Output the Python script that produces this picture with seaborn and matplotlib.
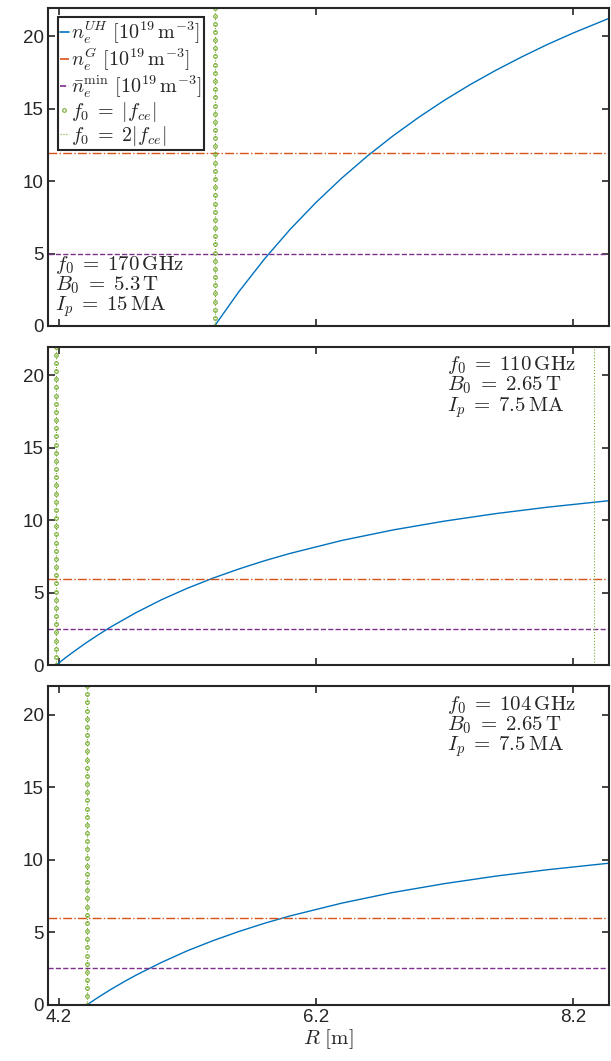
import numpy as np
import pandas as pd
import seaborn as sns
import matplotlib.pyplot as plt
from matplotlib.lines import Line2D

# upper hybrid density profiles, R [m] vs n_e [1e19 m^-3]
R_a = [5.412, 5.6, 5.8, 6.0, 6.2, 6.4, 6.6, 6.8, 7.0, 7.2, 7.4, 7.6, 7.8, 8.0, 8.2, 8.478]
n_a = [0.0, 2.36, 4.63, 6.68, 8.53, 10.21, 11.74, 13.14, 14.42, 15.60, 16.68, 17.67, 18.59, 19.45, 20.24, 21.25]

R_b = [4.182, 4.25, 4.3, 4.4, 4.5, 4.6, 4.8, 5.0, 5.2, 5.4, 5.6, 5.8, 6.0, 6.4, 6.8, 7.2, 7.6, 8.0, 8.478]
n_b = [0.0, 0.48, 0.81, 1.45, 2.04, 2.60, 3.61, 4.51, 5.30, 6.00, 6.63, 7.20, 7.71, 8.60, 9.33, 9.94, 10.46, 10.90, 11.35]

R_c = [4.424, 4.5, 4.6, 4.7, 4.8, 5.0, 5.2, 5.4, 5.6, 5.8, 6.0, 6.4, 6.8, 7.2, 7.6, 8.0, 8.478]
n_c = [0.0, 0.45, 1.01, 1.53, 2.02, 2.91, 3.71, 4.41, 5.04, 5.61, 6.12, 7.00, 7.74, 8.35, 8.87, 9.31, 9.76]

n_greenwald = [11.94, 5.97, 5.97]
n_min = [5.0, 2.5, 2.5]
R_fce = [5.412, 4.182, 4.424]          # f0 = |fce|
R_2fce = [None, 8.365, None]           # f0 = 2|fce| (only inside panel 2)
labels = [r'$f_0 \;=\; 170\,\mathrm{GHz}$' + '\n' + r'$B_0 \;=\; 5.3\,\mathrm{T}$' + '\n' + r'$I_p \;=\; 15\,\mathrm{MA}$',
          r'$f_0 \;=\; 110\,\mathrm{GHz}$' + '\n' + r'$B_0 \;=\; 2.65\,\mathrm{T}$' + '\n' + r'$I_p \;=\; 7.5\,\mathrm{MA}$',
          r'$f_0 \;=\; 104\,\mathrm{GHz}$' + '\n' + r'$B_0 \;=\; 2.65\,\mathrm{T}$' + '\n' + r'$I_p \;=\; 7.5\,\mathrm{MA}$']
xticks = [4.2, 6.2, 8.2]
yticks = [0, 5, 10, 15, 20]

sns.set_style('ticks')
plt.rcParams['font.family'] = ['Liberation Sans', 'DejaVu Sans']
plt.rcParams['mathtext.fontset'] = 'cm'

blue, orange, purple, green = '#0072BD', '#D95319', '#7E2F8E', '#77AC30'
frame = '#262626'

fig = plt.figure(figsize=(6.11, 10.61), dpi=100)
left, width, h = 47.7 / 611, (609 - 47.7) / 611, 318.5 / 1061
tops = [7.5, 346.5, 686]
axes = [fig.add_axes([left, 1 - (t + 318.5) / 1061, width, h]) for t in tops]

profiles = [(R_a, n_a), (R_b, n_b), (R_c, n_c)]
y_marks = np.linspace(0, 22, 40)

for i, ax in enumerate(axes):
    df = pd.DataFrame({'R': profiles[i][0], 'n': profiles[i][1]})
    sns.lineplot(data=df, x='R', y='n', ax=ax, color=blue, lw=1.0, sort=False)
    ax.axhline(n_greenwald[i], color=orange, ls='-.', lw=1.0)
    ax.axhline(n_min[i], color=purple, ls='--', lw=1.0)
    ax.plot([R_fce[i]] * len(y_marks), y_marks, ls=':', color=green, lw=0.8,
            marker='o', ms=2.6, mfc='none', mec=green, mew=0.8)
    if R_2fce[i] is not None:
        ax.axvline(R_2fce[i], color=green, ls=':', lw=0.8)

    ax.set_xlim(4.115, 8.478)
    ax.set_ylim(0, 22)
    ax.set_xticks(xticks)
    ax.set_yticks(yticks)
    ax.tick_params(direction='in', top=True, right=True, length=5, width=1.2,
                   labelsize=13.5, colors=frame, labelcolor='#262626', pad=3)
    for s in ax.spines.values():
        s.set_linewidth(1.5)
        s.set_color(frame)
    ax.set_xlabel('')
    ax.set_ylabel('')
    if i < 2:
        ax.set_xticklabels([])
    else:
        ax.set_xticklabels(['4.2', '6.2', '8.2'])
        ax.set_xlabel(r'$R\ [\mathrm{m}]$', fontsize=15, labelpad=1)

    if i == 0:
        ax.text(0.013, 0.022, labels[i], transform=ax.transAxes, fontsize=15,
                ha='left', va='bottom', linespacing=0.9)
    else:
        ax.text(0.711, 0.975, labels[i], transform=ax.transAxes, fontsize=15,
                ha='left', va='top', linespacing=0.9)

handles = [Line2D([], [], color=blue, lw=1.2),
           Line2D([], [], color=orange, ls='-.', lw=1.2),
           Line2D([], [], color=purple, ls='--', lw=1.2),
           Line2D([], [], color=green, ls='none', marker='o', ms=2.6, mfc='none', mew=0.8),
           Line2D([], [], color=green, ls=':', lw=0.8)]
leg_labels = [r'$n_e^{UH}\ [10^{19}\,\mathrm{m}^{-3}]$',
              r'$n_e^{G}\ [10^{19}\,\mathrm{m}^{-3}]$',
              r'$\bar{n}_e^{\min}\ [10^{19}\,\mathrm{m}^{-3}]$',
              r'$f_0 \;=\; |f_{ce}|$',
              r'$f_0 \;=\; 2|f_{ce}|$']
leg = axes[0].legend(handles, leg_labels, loc='upper left', bbox_to_anchor=(0.018, 0.97),
                     fontsize=14.5, handlelength=0.45, handletextpad=0.1, borderpad=0.1,
                     labelspacing=0.0, fancybox=False, framealpha=1, borderaxespad=0)
leg.get_frame().set_edgecolor(frame)
leg.get_frame().set_linewidth(1.5)

fig.savefig('out.png', dpi=100)
